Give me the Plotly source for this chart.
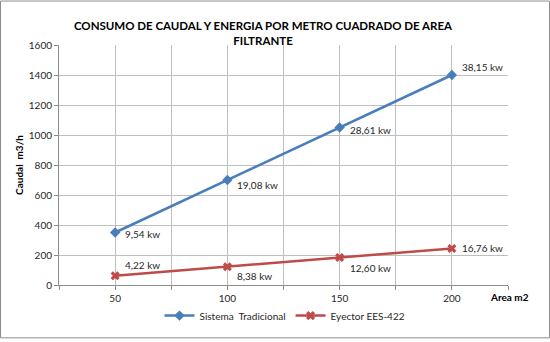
import plotly.graph_objects as go

areas = [50, 100, 150, 200]
tradicional = [350, 700, 1050, 1400]
eyector = [61, 122, 183, 244]
lab_trad = ["9,54 kw", "19,08 kw", "28,61 kw", "38,15 kw"]
lab_eye = ["4,22 kw", "8,38 kw", "12,60 kw", "16,76 kw"]
# label offsets (px) relative to point: (xshift, yshift)
off_trad = [(8, -1), (8, -5), (8, -2), (8, 8)]
off_eye = [(8, 11), (8, -9), (8, -10), (8, 0)]

W, H = 550, 342
ML, MR, MT, MB = 59, 42, 45, 54

blue = "#4A7EBB"
red = "#BE4B48"
font = "Lato, 'Open Sans', sans-serif"

fig = go.Figure()
fig.add_trace(go.Scatter(x=areas, y=tradicional, mode="lines+markers", name="Sistema  Tradicional",
                         line=dict(color=blue, width=2.5),
                         marker=dict(symbol="diamond", size=8, color=blue)))
fig.add_trace(go.Scatter(x=areas, y=eyector, mode="lines+markers", name="Eyector EES-422",
                         line=dict(color=red, width=2.5),
                         marker=dict(symbol="x", size=8, color=red)))

for xs, ys, labs, offs in [(areas, tradicional, lab_trad, off_trad), (areas, eyector, lab_eye, off_eye)]:
    for x, y, t, (dx, dy) in zip(xs, ys, labs, offs):
        fig.add_annotation(x=x, y=y, text=t, showarrow=False, xanchor="left", yanchor="middle",
                           xshift=dx, yshift=dy, font=dict(size=10, color="#262626", family=font))

pw = W - ML - MR
ph = H - MT - MB
fig.add_shape(type="rect", xref="paper", yref="paper",
              x0=(0.5 - ML) / pw, x1=(W - 0.5 - ML) / pw,
              y0=-(MB - 0.5) / ph, y1=1 + (MT - 0.5) / ph,
              line=dict(color="#8C8C8C", width=1), layer="below")

fig.add_annotation(xref="paper", yref="paper", x=(510 - ML) / pw, y=-(300 - MT - ph) / ph,
                   text="<b>Area m2</b>", showarrow=False, xanchor="center", yanchor="middle",
                   font=dict(size=10, color="black", family=font))

tickvals = [25, 50, 75, 100, 125, 150, 175, 200, 225]
ticktext = ["", "50", "", "100", "", "150", "", "200", ""]

fig.update_layout(
    width=W, height=H,
    margin=dict(l=ML, r=MR, t=MT, b=MB),
    paper_bgcolor="white", plot_bgcolor="white",
    title=dict(text="<b>CONSUMO DE CAUDAL Y ENERGIA POR METRO CUADRADO DE AREA<br>FILTRANTE</b>",
               x=(263) / W, xanchor="center", y=1 - 30 / H, yanchor="middle",
               font=dict(size=11.5, color="black", family=font)),
    font=dict(family=font, size=10, color="#262626"),
    xaxis=dict(range=[25, 225], tickvals=tickvals, ticktext=ticktext,
               showgrid=True, gridcolor="#BFBFBF", gridwidth=1,
               showline=True, linecolor="#8C8C8C", linewidth=1,
               ticks="outside", ticklen=4, tickcolor="#8C8C8C",
               tickfont=dict(size=10, color="#262626"), zeroline=False, fixedrange=True),
    yaxis=dict(range=[0, 1600], dtick=200, showgrid=True, gridcolor="#BFBFBF", gridwidth=1,
               showline=True, linecolor="#8C8C8C", linewidth=1,
               ticks="outside", ticklen=4, tickcolor="#8C8C8C",
               tickfont=dict(size=10, color="#262626"), zeroline=False,
               title=dict(text="<b>Caudal  m3/h</b>", font=dict(size=10, color="black"), standoff=3)),
    legend=dict(orientation="h", x=(285 - ML) / pw, xanchor="center",
                y=-(319 - MT - ph) / ph, yanchor="middle",
                font=dict(size=10, color="#262626"), bgcolor="rgba(0,0,0,0)",
                itemwidth=30, tracegroupgap=0),
    showlegend=True,
)

fig.write_html("out.html")
